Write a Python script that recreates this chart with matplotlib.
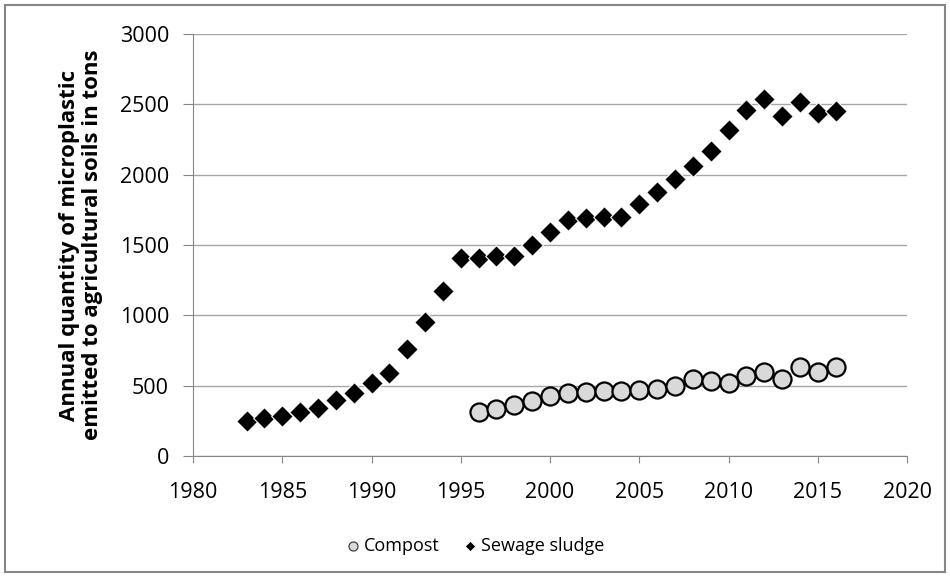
import matplotlib.pyplot as plt
from matplotlib.patches import Rectangle

plt.rcParams['font.family'] = 'Open Sans'

years_sludge = list(range(1983, 2017))
sludge = [250, 270, 285, 310, 340, 400, 450, 520, 590, 760, 950, 1170,
          1410, 1410, 1420, 1420, 1500, 1590, 1680, 1690, 1700, 1700,
          1790, 1880, 1970, 2060, 2170, 2320, 2460, 2540, 2415, 2515,
          2440, 2450]

years_compost = list(range(1996, 2017))
compost = [310, 335, 360, 390, 430, 445, 455, 460, 465, 470, 475, 500,
           545, 535, 520, 570, 600, 550, 630, 595, 635]

fig = plt.figure(figsize=(9.5, 5.77), dpi=100)
ax = fig.add_axes([193 / 950, 1 - 456 / 577, 714 / 950, 422 / 577])

# grey frame round the whole chart
fig.patches.append(Rectangle((5 / 950, 5 / 577), 940 / 950, 567 / 577,
                             transform=fig.transFigure, fill=False,
                             edgecolor='#868686', linewidth=1.5))

ax.scatter(years_compost, compost, s=13 ** 2, marker='o', facecolor='#d9d9d9',
           edgecolor='black', linewidth=1.6, label='Compost', zorder=3)
ax.scatter(years_sludge, sludge, s=11 ** 2, marker='D', facecolor='black',
           edgecolor='white', linewidth=0.8, label='Sewage sludge', zorder=4)

ax.set_xlim(1980, 2020)
ax.set_ylim(0, 3000)
ax.set_xticks(range(1980, 2021, 5))
ax.set_yticks(range(0, 3001, 500))
ax.grid(axis='y', color='#a6a6a6', linewidth=1)
ax.set_axisbelow(True)

for side in ['top', 'right']:
    ax.spines[side].set_visible(False)
for side in ['left', 'bottom']:
    ax.spines[side].set_color('#868686')
ax.tick_params(axis='both', colors='#868686', labelcolor='black',
               labelsize=15.5, direction='out')
ax.tick_params(axis='y', length=7.2, pad=10)
ax.tick_params(axis='x', length=5, pad=14)

ax.set_ylabel('Annual quantity of microplastic\nemitted to agricultural soils in tons',
              fontsize=16, fontweight='bold', labelpad=12, linespacing=1.15)

leg = fig.legend(loc='center', bbox_to_anchor=(0.5, 1 - 546 / 577), ncol=2,
                 frameon=False, fontsize=13, handletextpad=0.2, columnspacing=1.3,
                 handlelength=0.8, markerscale=0.5)
leg.legend_handles[0].set_linewidth(0.9)
leg.legend_handles[0].set_edgecolor('#404040')

plt.savefig('out.png', dpi=100)
